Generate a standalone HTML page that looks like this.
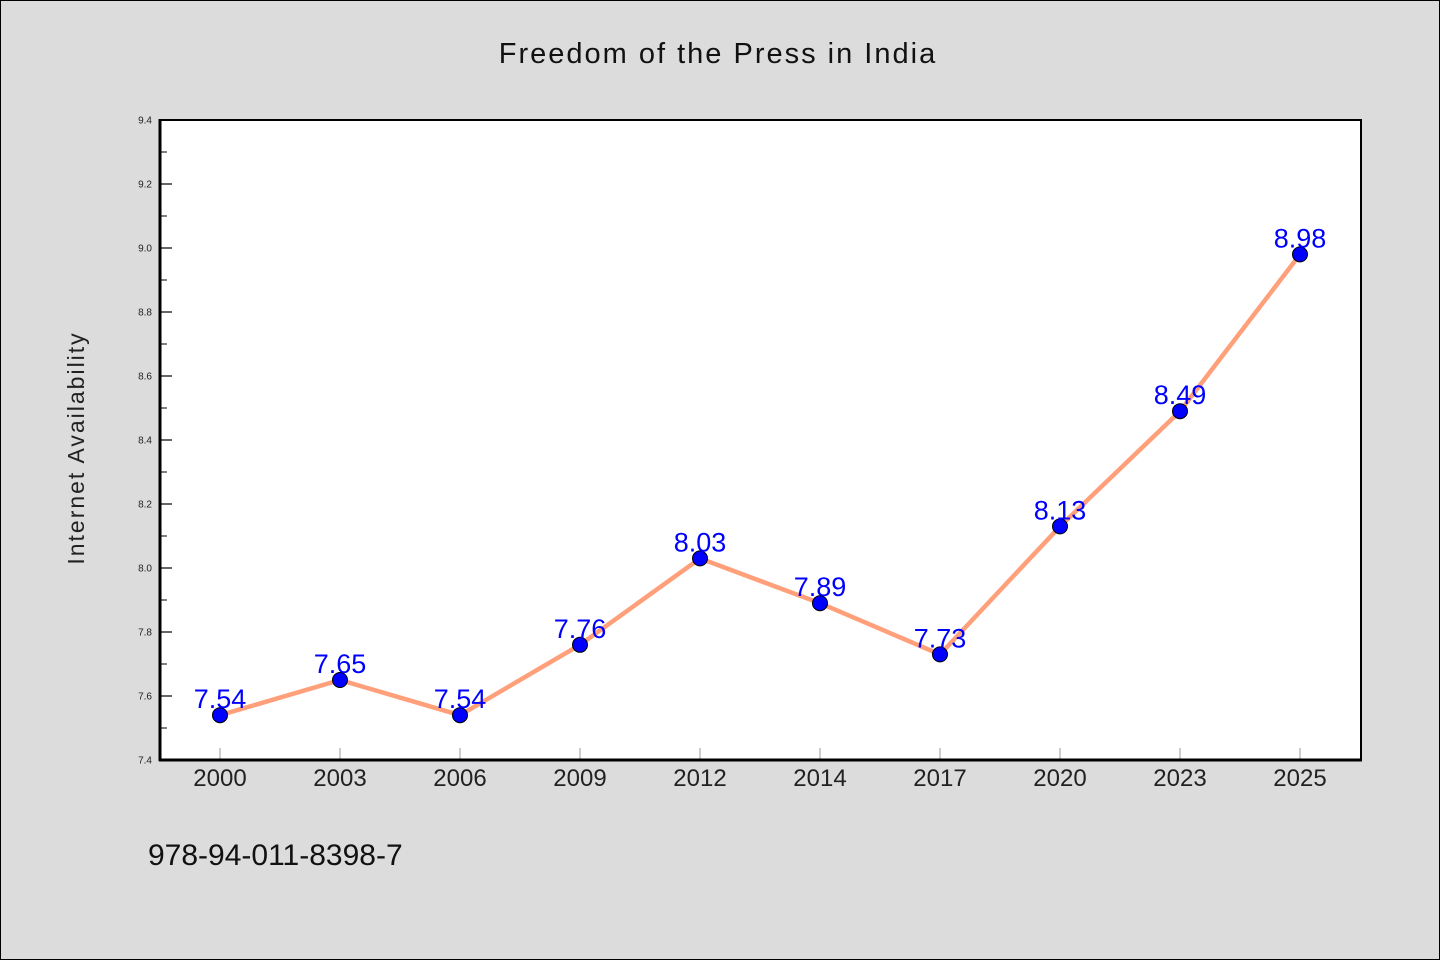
<!DOCTYPE html>
<html><head><meta charset="utf-8"><style>
body{margin:0;background:#dcdcdc;}
svg{display:block;font-family:"WenQuanYi Zen Hei","Liberation Sans",sans-serif;}
</style></head><body>
<svg id="chart" width="1440" height="960" viewBox="0 0 1440 960">
<rect x="0.5" y="0.5" width="1439" height="959" fill="#dcdcdc" stroke="#000" stroke-width="1"/>
<text x="718" y="63" font-size="29" text-anchor="middle" letter-spacing="2" fill="#111">Freedom of the Press in India</text>
<rect x="160" y="120" width="1201" height="640" fill="#fff"/>
<g id="yaxis"></g>
<g id="xaxis"></g>
<g id="series"></g>
<line x1="160" y1="119" x2="160" y2="761" stroke="#000" stroke-width="3"/>
<line x1="159" y1="760" x2="1362" y2="760" stroke="#000" stroke-width="3"/>
<line x1="159" y1="120" x2="1362" y2="120" stroke="#000" stroke-width="2"/>
<line x1="1361" y1="119" x2="1361" y2="761" stroke="#000" stroke-width="2"/>
<text transform="translate(84,448) rotate(-90)" font-size="23" text-anchor="middle" letter-spacing="2" fill="#222">Internet Availability</text>
<text x="148" y="865" font-size="30" fill="#111">978-94-011-8398-7</text>
</svg>
<script>
const categories=["2000","2003","2006","2009","2012","2014","2017","2020","2023","2025"];
const values=[7.54,7.65,7.54,7.76,8.03,7.89,7.73,8.13,8.49,8.98];
const valueLabels=["7.54","7.65","7.54","7.76","8.03","7.89","7.73","8.13","8.49","8.98"];
const yTicks=[7.4,7.6,7.8,8.0,8.2,8.4,8.6,8.8,9.0,9.2,9.4];
const yMin=7.4,yMax=9.4;
const NS="http://www.w3.org/2000/svg";
const L=160,R=1360,T=120,B=760;
const x=i=>L+(R-L)/categories.length*(i+0.5);
const y=v=>B-(v-yMin)/(yMax-yMin)*(B-T);
function mk(tag,attrs,parent,text){const e=document.createElementNS(NS,tag);for(const k in attrs)e.setAttribute(k,attrs[k]);if(text!==undefined)e.textContent=text;parent.appendChild(e);return e;}
const ya=document.getElementById('yaxis');
yTicks.forEach((t,i)=>{
  const ln=mk('line',{x1:L,x2:L+12,y1:y(t),y2:y(t),stroke:'#000','stroke-width':1.2},ya);
  
  
  const lb=mk('text',{x:L-8,y:y(t)+3.5,'font-size':10,'text-anchor':'end',fill:'#222'},ya,t.toFixed(1));
  
  
  if(i<yTicks.length-1){const m=(t+yTicks[i+1])/2;
    const mn=mk('line',{x1:L,x2:L+7,y1:y(m),y2:y(m),stroke:'#000','stroke-width':1},ya);
    
    }
});
const xa=document.getElementById('xaxis');
categories.forEach((c,i)=>{
  const ln=mk('line',{x1:x(i),x2:x(i),y1:B,y2:B-12,stroke:'#999','stroke-width':1},xa);
  
  
  const lb=mk('text',{x:x(i),y:B+26,'font-size':24,'text-anchor':'middle',fill:'#222'},xa,c);
  
  
});
const s=document.getElementById('series');
const pl=mk('polyline',{points:values.map((v,i)=>x(i)+','+y(v)).join(' '),fill:'none',stroke:'#ffa07a','stroke-width':4.5,'stroke-linejoin':'round'},s);


values.forEach((v,i)=>{
  const c=mk('circle',{cx:x(i),cy:y(v),r:7.5,fill:'#0000ff',stroke:'#000','stroke-width':1},s);
  
  
  const t=mk('text',{x:x(i),y:y(v)-7,'font-size':27,'text-anchor':'middle',fill:'#0000ff'},s,valueLabels[i]);
  
  
});
</script>
</body></html>
